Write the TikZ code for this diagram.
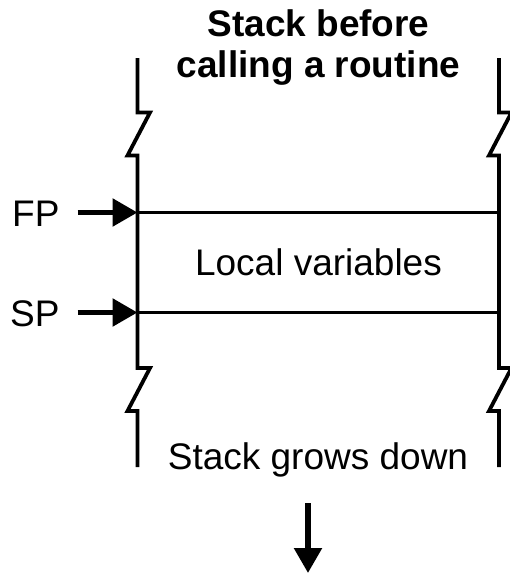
\documentclass[tikz,border=0pt]{standalone}
\usepackage{fontspec}
\setmainfont{Liberation Sans}
\usetikzlibrary{arrows.meta}
\begin{document}
\begin{tikzpicture}[x=1pt,y=-1pt,
  rail/.style={line width=3.8pt,line join=miter},
  ptr/.style={line width=5.5pt,-{Triangle[length=25pt,width=27pt]}},
  lbl/.style={inner sep=0pt,font=\fontsize{37}{41}\selectfont}]
\useasboundingbox (0,0) rectangle (510,574);

% title
\node[lbl,anchor=base] (title1) at (318.5,36.7) {\bfseries Stack before};
\node[lbl,anchor=base] (title2) at (318.5,77.3) {\bfseries calling a routine};

% frame boundaries
\coordinate (fpL) at (137.5,212.5);
\coordinate (fpR) at (499,212.5);
\coordinate (spL) at (137.5,312.5);
\coordinate (spR) at (499,312.5);

% stack rails with break marks
\foreach \x in {137.5,499} {
  \draw[rail] (\x,58) -- (\x,112.5) -- (\x+12.5,112.5) -- (\x-10,155.5) -- (\x,155.5)
    -- (\x,368) -- (\x+12.5,368) -- (\x-10,411) -- (\x,411) -- (\x,467);
}
\draw[rail] (fpL) -- (fpR);
\draw[rail] (spL) -- (spR);

\node[lbl,anchor=base] (locals) at (318.5,275) {Local variables};
\node[lbl,anchor=base] (grow) at (318,469) {Stack grows down};

% frame and stack pointers
\node[lbl,anchor=base west] (fp) at (12,226) {FP};
\node[lbl,anchor=base west] (sp) at (10,326) {SP};
\coordinate (fpTail) at (77.5,212.5);
\coordinate (spTail) at (77.5,312.5);
\draw[ptr] (fpTail) -- (fpL);
\draw[ptr] (spTail) -- (spL);

% growth direction
\coordinate (downTop) at (308,503);
\coordinate (downTip) at (308,573);
\draw[ptr] (downTop) -- (downTip);
\end{tikzpicture}
\end{document}
